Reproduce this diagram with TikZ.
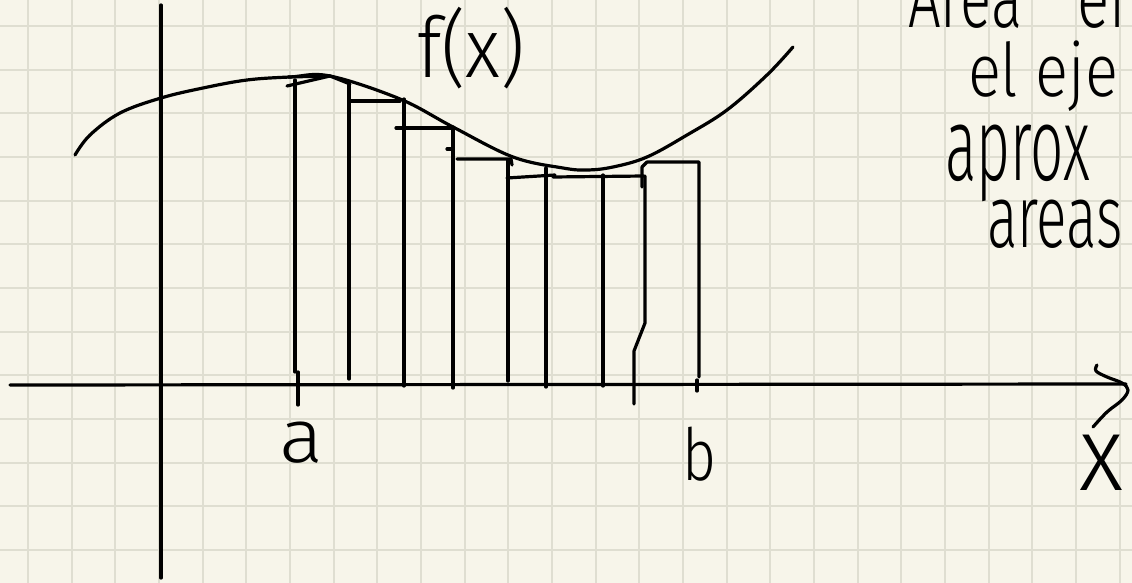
\documentclass[tikz,border=0pt]{standalone}
\usepackage{fontspec}
\usepackage{graphicx}
\newfontfamily\handfont{Fira Sans Light}
\definecolor{paper}{RGB}{247,245,234}
\definecolor{gridc}{RGB}{223,222,209}
\newcommand\handtext[3]{\resizebox{#1pt}{\height}{\handfont\fontsize{#2}{#2}\selectfont #3}}
\tikzset{
  ink/.style={line width=3.2pt, line cap=round, line join=round, black},
  gridline/.style={gridc, line width=2pt},
  hand/.style={inner sep=0pt, outer sep=0pt, anchor=base west}
}
\begin{document}
\begin{tikzpicture}[x=1pt,y=-1pt]
\clip (0,0) rectangle (1132,583);
\fill[paper] (0,0) rectangle (1132,583);
% grid paper
\foreach \i in {0,...,25} \draw[gridline] ({28+43.67*\i},0) -- ({28+43.67*\i},583);
\foreach \j in {0,...,12} \draw[gridline] (0,{26+43.67*\j}) -- (1132,{26+43.67*\j});
% axes
\draw[ink] (161,5) -- (161,578);
\draw[ink] (10,385) -- (1126,384);
\draw[ink] plot[smooth, tension=0.6] coordinates {(1097,365) (1096,371) (1107,377) (1122,383) (1128,390) (1122,400) (1107,412) (1093,427)};
% curve f(x)
\draw[ink] plot[smooth, tension=0.6] coordinates {(75,155) (90,135) (120,113) (161,98) (203,88) (247,80) (290,77) (330,76) (400,99) (453,127) (513,157) (563,168) (587,170) (613,167) (647,157) (687,135) (727,110) (767,75) (793,47)};
% rectangles: verticals
\draw[ink] (295,80) -- (295,372);
\draw[ink] (298,372) -- (298,405);
\draw[ink] (349,84) -- (349,379);
\draw[ink] (404,99) -- (404,386);
\draw[ink] (453,127) -- (453,388);
\draw[ink] (508,160) -- (508,381);
\draw[ink] (546,168) -- (546,387);
\draw[ink] (603,175) -- (603,386);
\draw[ink] (645,176) -- (645,323) -- (634,351) -- (634,404);
\draw[ink] (642,187) -- (642,167) -- (647,162) -- (699,162) -- (699,377);
\draw[ink] (697,380) -- (697,391);
% rectangles: tops
\draw[ink] (288,77) -- (330,76);
\draw[ink] (287,86) -- (330,76) -- (350,84);
\draw[ink] (349,101) -- (400,101);
\draw[ink] (396,128) -- (453,128);
\draw[ink] (447,149) -- (453,149);
\draw[ink] (457,159) -- (511,159) -- (512,165);
\draw[ink] (507,178) -- (555,175);
\draw[ink] (553,177) -- (644,176);
% labels
\node[hand] (fx) at (417,78) {\handtext{108}{84}{f(x)}};
\node[hand] (la) at (279,462) {\handtext{44}{76}{a}};
\node[hand] (lb) at (682,480) {\handtext{34}{72}{b}};
\node[hand] (lx) at (1079,490) {\handtext{44}{106}{x}};
\node[hand] (t1) at (908,28) {\handtext{114}{85}{Area}};
\node[hand] (t2) at (1077,28) {\handtext{140}{85}{entre}};
\node[hand] (t3) at (968,97) {\handtext{150}{74}{el eje}};
\node[hand] (t4) at (945,180) {\handtext{145}{104}{aprox}};
\node[hand] (t5) at (987,247) {\handtext{136}{89}{areas}};
\end{tikzpicture}
\end{document}
